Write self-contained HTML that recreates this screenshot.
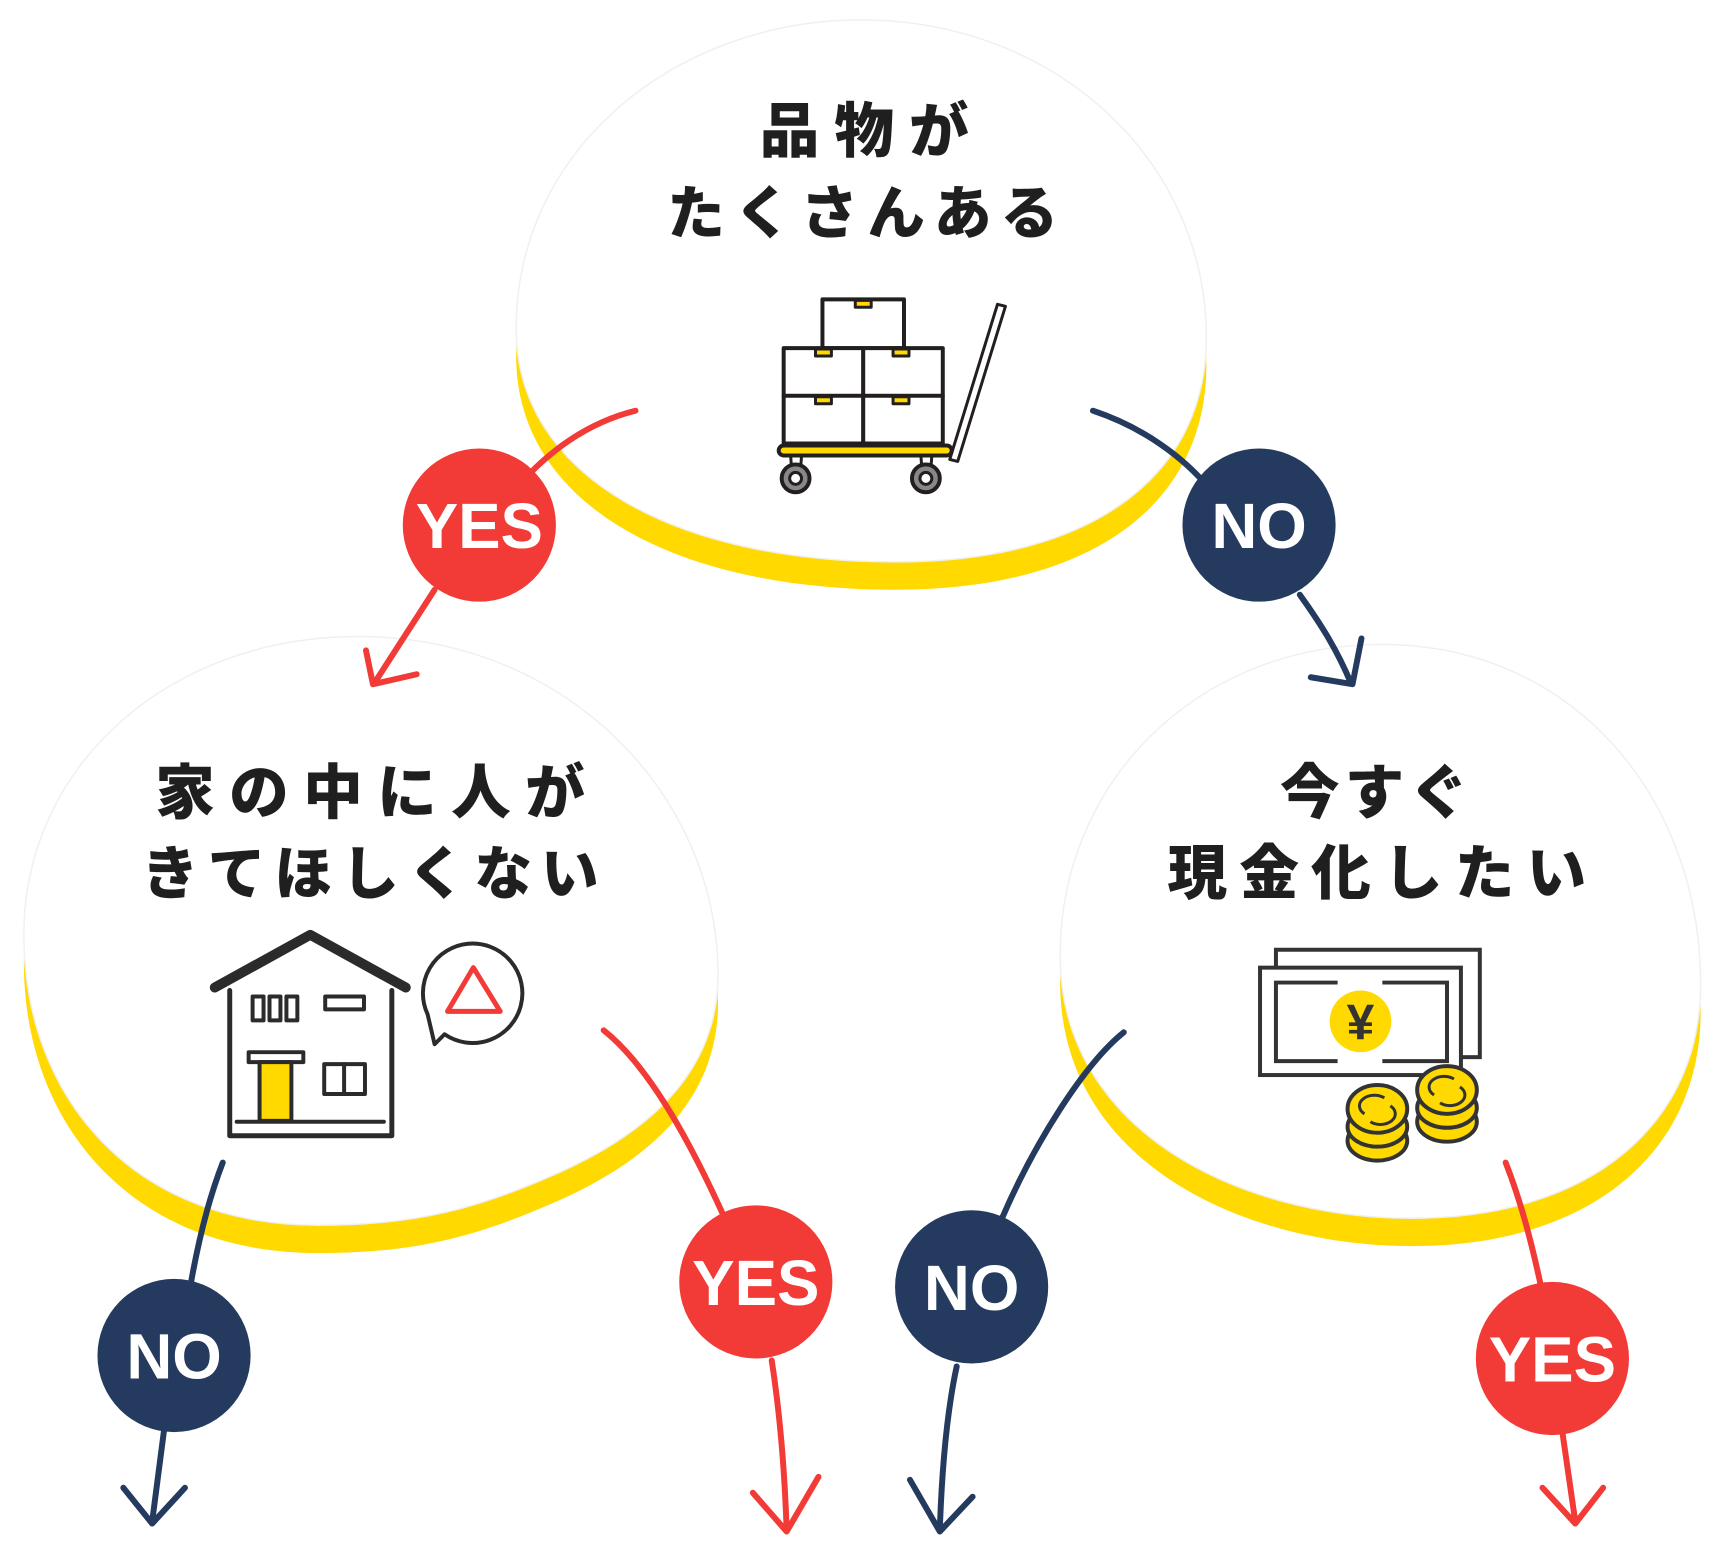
<!DOCTYPE html>
<html><head><meta charset="utf-8"><style>
html,body{margin:0;padding:0;background:#fff;}
svg{display:block;}
.t{font-family:"Liberation Sans","Noto Sans CJK JP",sans-serif;font-weight:900;fill:#1f1f1f;}
.b{font-family:"Liberation Sans",sans-serif;font-weight:bold;fill:#fff;font-size:64px;}
</style></head><body>
<svg width="1728" height="1556" viewBox="0 0 1728 1556" xmlns="http://www.w3.org/2000/svg">
<defs>
<path id="bt" d="M866,20 C1060,20 1213,160 1213,340 C1213,470 1110,565 900,565 C680,565 519,480 519,330 C519,150 680,20 866,20 Z"/>
<path id="bl" d="M360,640 C570,640 722,800 722,980 C722,1080 650,1140 560,1180 C480,1215 420,1232 320,1232 C130,1232 24,1100 24,940 C24,770 170,640 360,640 Z"/>
<path id="br" d="M1390,648 C1580,648 1710,800 1710,990 C1710,1130 1600,1225 1420,1225 C1250,1225 1066,1140 1066,960 C1066,790 1200,648 1390,648 Z"/>
</defs>
<g transform="scale(0.9945)">
<use href="#bt" fill="#ffd900" transform="translate(0,28)"/>
<use href="#bt" fill="#fff" stroke="#f0f0f0" stroke-width="1.5"/>
<use href="#bl" fill="#ffd900" transform="translate(0,28)"/>
<use href="#bl" fill="#fff" stroke="#f0f0f0" stroke-width="1.5"/>
<use href="#br" fill="#ffd900" transform="translate(0,28)"/>
<use href="#br" fill="#fff" stroke="#f0f0f0" stroke-width="1.5"/>

<text class="t" x="764" y="153" font-size="60" textLength="210" lengthAdjust="spacing">品物が</text>
<text class="t" x="671" y="235" font-size="58" textLength="393" lengthAdjust="spacing">たくさんある</text>
<text class="t" x="156" y="818" font-size="60" textLength="432" lengthAdjust="spacing">家の中に人が</text>
<text class="t" x="142" y="899" font-size="58" textLength="460" lengthAdjust="spacing">きてほしくない</text>
<text class="t" x="1287" y="818" font-size="60" textLength="190" lengthAdjust="spacing">今すぐ</text>
<text class="t" x="1174" y="899" font-size="60" textLength="421" lengthAdjust="spacing">現金化したい</text>

<g stroke="#231f1f" stroke-width="4" fill="#fff" stroke-linejoin="round">
<rect x="827" y="301" width="82" height="49"/>
<rect x="788" y="350" width="80" height="48"/><rect x="868" y="350" width="80" height="48"/>
<rect x="788" y="398" width="80" height="48"/><rect x="868" y="398" width="80" height="48"/>
<rect x="860" y="302" width="16" height="7" fill="#ffd900" stroke-width="3"/>
<rect x="820" y="351" width="16" height="7" fill="#ffd900" stroke-width="3"/><rect x="898" y="351" width="16" height="7" fill="#ffd900" stroke-width="3"/>
<rect x="820" y="399" width="16" height="7" fill="#ffd900" stroke-width="3"/><rect x="898" y="399" width="16" height="7" fill="#ffd900" stroke-width="3"/>
<path d="M955,462 L1003,306 L1011,308 L963,464 Z" stroke-width="3"/>
<rect x="783" y="448" width="174" height="10" rx="5" fill="#ffd900"/>
<path d="M795,458 L796,472 M806,458 L805,472 M926,458 L927,472 M937,458 L936,472" stroke-width="3"/>
<circle cx="800" cy="481" r="14" fill="#888"/><circle cx="800" cy="481" r="6" fill="#fff" stroke-width="3"/>
<circle cx="931" cy="481" r="14" fill="#888"/><circle cx="931" cy="481" r="6" fill="#fff" stroke-width="3"/>
</g>

<g stroke="#2b2b2b" fill="none" stroke-linecap="round" stroke-linejoin="round">
<path d="M216,993 L312,940 L408,993" stroke-width="10"/>
<path d="M231,996 L231,1142 L394,1142 L394,996" stroke-width="5"/>
<rect x="254" y="1002" width="11" height="24" stroke-width="4"/><rect x="271" y="1002" width="11" height="24" stroke-width="4"/><rect x="288" y="1002" width="11" height="24" stroke-width="4"/>
<rect x="327" y="1002" width="39" height="13" stroke-width="4"/>
<rect x="250" y="1058" width="55" height="10" stroke-width="4"/>
<rect x="261" y="1068" width="32" height="59" fill="#ffd900" stroke-width="4"/>
<rect x="326" y="1070" width="41" height="30" stroke-width="4"/><path d="M346,1070 L346,1100" stroke-width="4"/>
<path d="M238,1128 L386,1128" stroke-width="4"/>
<path d="M447,1040 A50,50 0 1 0 430,1020 L437,1050 Z" stroke-width="4" fill="#fff"/>
<path d="M476,973 L450,1017 L503,1017 Z" stroke="#f23a36" stroke-width="5"/>
</g>

<g stroke="#333" stroke-width="4" fill="#fff">
<rect x="1283" y="955" width="205" height="108"/>
<rect x="1267" y="973" width="202" height="108"/>
<path d="M1345,988 L1283,988 L1283,1067 L1345,1067 M1390,988 L1455,988 L1455,1067 L1390,1067" fill="none"/>
<circle cx="1368" cy="1027" r="31" fill="#ffd900" stroke="none"/>
<text x="1368" y="1045" font-family="Liberation Sans,sans-serif" font-weight="bold" font-size="50" text-anchor="middle" fill="#333" stroke="none">¥</text>
<g fill="#ffd900">
<ellipse cx="1385" cy="1147" rx="30" ry="20"/><ellipse cx="1385" cy="1133" rx="30" ry="20"/><ellipse cx="1385" cy="1115" rx="30" ry="24"/>
<ellipse cx="1455" cy="1128" rx="30" ry="20"/><ellipse cx="1455" cy="1114" rx="30" ry="20"/><ellipse cx="1455" cy="1096" rx="30" ry="24"/>
</g>
<path d="M1372,1120 A14,10 0 0 1 1392,1104 M1398,1112 A14,10 0 0 1 1378,1128 M1442,1101 A14,10 0 0 1 1462,1085 M1468,1093 A14,10 0 0 1 1448,1109" fill="none" stroke-width="3"/>
</g>

<g fill="none" stroke-width="6" stroke-linecap="round" stroke-linejoin="round">
<path d="M639,413 C590,425 550,455 520,490" stroke="#f23a36"/>
<path d="M437,593 L377,686 M368,654 L375,688 L419,678" stroke="#f23a36"/>
<path d="M1099,413 C1150,430 1190,460 1215,490" stroke="#243a5e"/>
<path d="M1307,598 C1330,630 1345,655 1358,686 M1369,642 L1360,688 L1318,681" stroke="#243a5e"/>
<path d="M224,1169 C210,1205 200,1245 192,1290" stroke="#243a5e"/>
<path d="M166,1430 L153,1530 M124,1496 L153,1532 L186,1496" stroke="#243a5e"/>
<path d="M607,1036 C650,1070 690,1140 726,1219" stroke="#f23a36"/>
<path d="M776,1368 C784,1420 789,1480 791,1538 M757,1501 L791,1540 L823,1485" stroke="#f23a36"/>
<path d="M1130,1038 C1090,1070 1040,1150 1008,1224" stroke="#243a5e"/>
<path d="M962,1374 C952,1420 947,1480 945,1538 M915,1488 L945,1540 L978,1505" stroke="#243a5e"/>
<path d="M1514,1169 C1530,1210 1540,1250 1549,1291" stroke="#f23a36"/>
<path d="M1571,1440 L1584,1530 M1551,1496 L1584,1532 L1612,1496" stroke="#f23a36"/>
</g>

<circle cx="482" cy="528" r="77" fill="#f23a36"/><text class="b" x="482" y="551" text-anchor="middle">YES</text>
<circle cx="1266" cy="528" r="77" fill="#243a5e"/><text class="b" x="1266" y="551" text-anchor="middle">NO</text>
<circle cx="175" cy="1363" r="77" fill="#243a5e"/><text class="b" x="175" y="1386" text-anchor="middle">NO</text>
<circle cx="760" cy="1289" r="77" fill="#f23a36"/><text class="b" x="760" y="1312" text-anchor="middle">YES</text>
<circle cx="977" cy="1294" r="77" fill="#243a5e"/><text class="b" x="977" y="1317" text-anchor="middle">NO</text>
<circle cx="1561" cy="1366" r="77" fill="#f23a36"/><text class="b" x="1561" y="1389" text-anchor="middle">YES</text>
</g>
</svg>
</body></html>
